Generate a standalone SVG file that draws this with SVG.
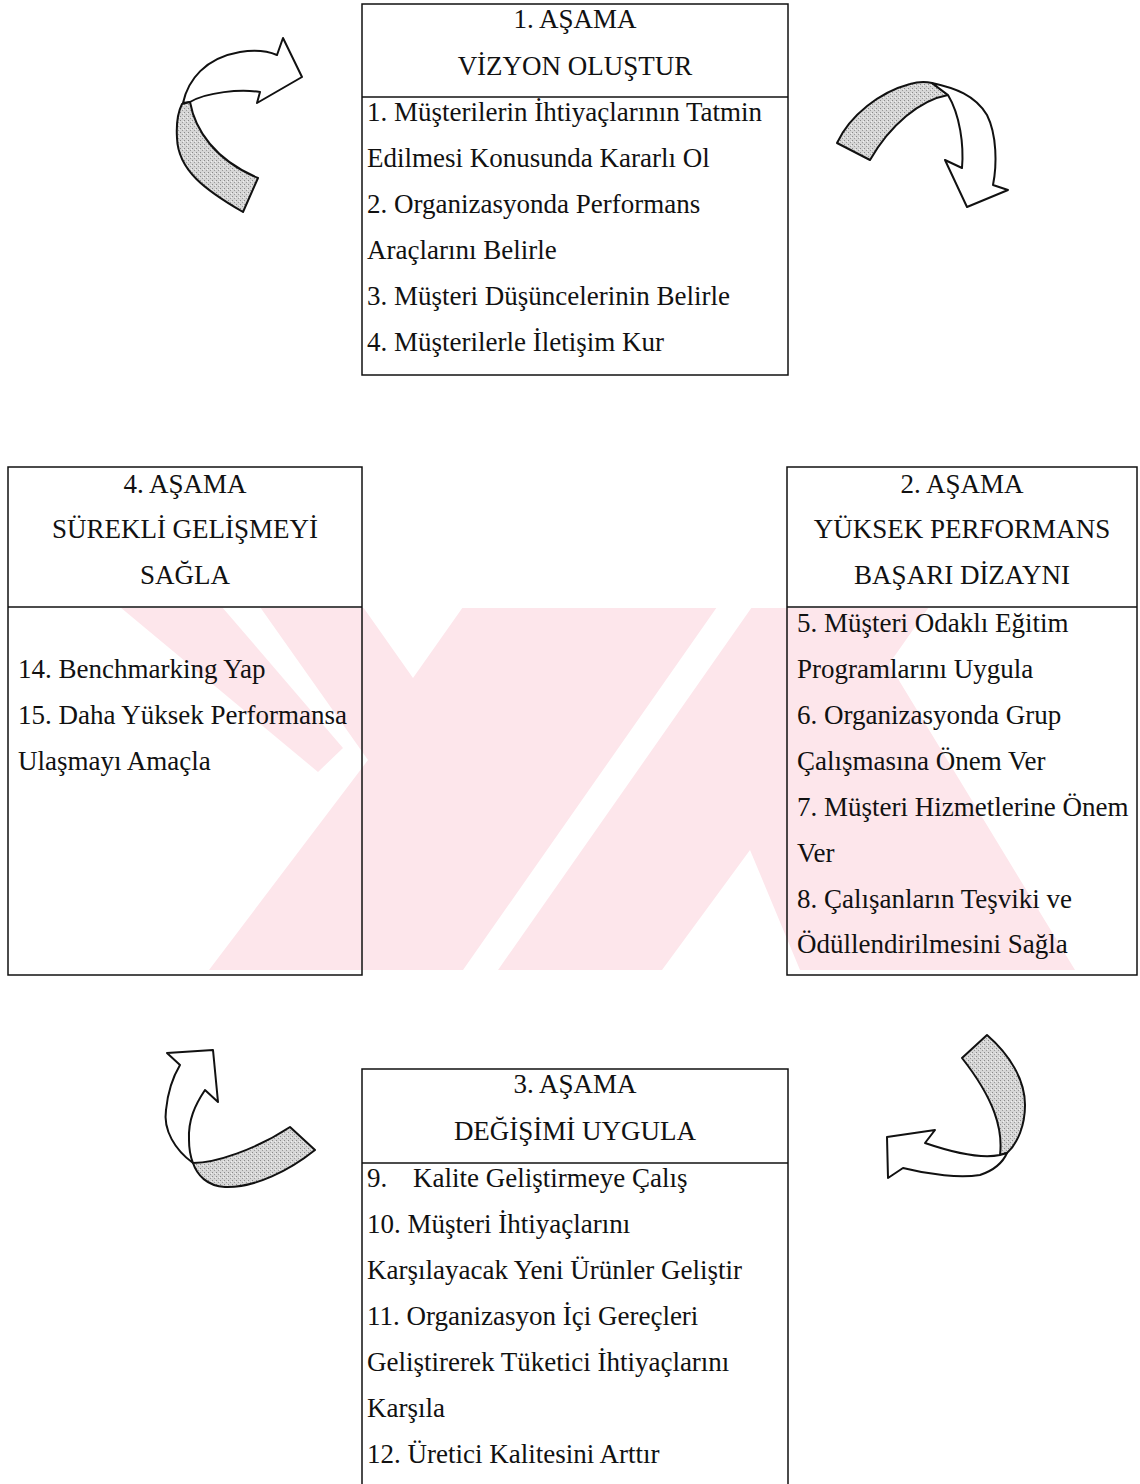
<svg xmlns="http://www.w3.org/2000/svg" width="1140" height="1484" viewBox="0 0 1140 1484">
<style>
.box{fill:none;stroke:#111;stroke-width:1.5}
.ln{stroke:#111;stroke-width:1.5}
text{font-family:"Liberation Serif","Times New Roman",serif;font-size:27px;fill:#111}
.h{text-anchor:middle}
.wm{fill:#fde6eb;stroke:none}
.aw{fill:#fff;stroke:#111;stroke-width:2;stroke-linejoin:round}
.as{fill:url(#stip);stroke:#111;stroke-width:2;stroke-linejoin:round}
</style>
<defs>
<pattern id="stip" width="4" height="4" patternUnits="userSpaceOnUse">
<rect width="4" height="4" fill="#d6d6d6"/>
<rect x="0" y="0" width="1" height="1" fill="#8a8a8a"/>
<rect x="2" y="2" width="1" height="1" fill="#9a9a9a"/>
<rect x="3" y="1" width="1" height="1" fill="#f0f0f0"/>
</pattern>
<clipPath id="wmclip"><rect x="10" y="608" width="1120" height="362"/></clipPath>
</defs>
<rect width="1140" height="1484" fill="#fff"/>
<g id="watermark" clip-path="url(#wmclip)">
<polygon class="wm" points="120,607 222,607 343,748 318,772"/>
<polygon class="wm" points="260,607 363,607 413,678 463,607 717,607 463,970 209,970 368,760"/>
<polygon class="wm" points="752,607 929,607 889,664 1075,970 800,970 750,850 662,970 498,970"/>
</g>
<g id="connectors">
<g id="arrow-tl">
<path class="aw" d="M183,103 C188,80 205,58 240,52 C258,49 270,52 277,55 L283,38 L302,77 L257,103 L260,92 C240,89 207,92 190,102 Z"/>
<path class="as" d="M182,104 L190,102 C195,130 215,160 258,178 L243,212 C205,190 178,170 177,138 C176,122 178,112 182,104 Z"/>
</g>
<g id="arrow-tr">
<path class="as" d="M837,143 C850,115 880,92 910,84 C920,81 928,82 932,83 L948,95 C920,100 890,125 870,160 Z"/>
<path class="aw" d="M932,83 C955,88 975,95 987,115 C997,135 997,165 993,185 L1008,190 L967,207 L945,160 L962,168 C964,145 960,115 948,95 Z"/>
</g>
<g id="arrow-br">
<path class="as" d="M962,1058 L987,1035 C1010,1055 1025,1080 1025,1105 C1025,1125 1018,1143 1007,1153 L1000,1155 C1003,1130 995,1100 962,1058 Z"/>
<path class="aw" d="M1000,1155 C985,1158 960,1155 925,1143 L935,1130 L887,1137 L888,1178 L903,1168 C930,1175 960,1178 980,1175 C995,1170 1003,1162 1007,1153 Z"/>
</g>
<g id="arrow-bl">
<path class="aw" d="M193,1163 C175,1150 163,1130 166,1110 C168,1090 174,1075 180,1065 L167,1053 L213,1050 L218,1102 L205,1090 C195,1105 188,1120 189,1140 C189,1150 191,1158 193,1163 Z"/>
<path class="as" d="M193,1163 C215,1163 255,1150 290,1127 L315,1150 C290,1170 255,1188 225,1187 C207,1186 197,1175 193,1163 Z"/>
</g>
</g>
<g id="stage1">
<rect class="box" x="362" y="4" width="426" height="371"/>
<line class="ln" x1="362" y1="97" x2="788" y2="97"/>
<text class="h" x="575" y="28">1. AŞAMA</text>
<text class="h" x="575" y="75">VİZYON OLUŞTUR</text>
<text x="367" y="121">1. Müşterilerin İhtiyaçlarının Tatmin</text>
<text x="367" y="167">Edilmesi Konusunda Kararlı Ol</text>
<text x="367" y="213">2. Organizasyonda Performans</text>
<text x="367" y="259">Araçlarını Belirle</text>
<text x="367" y="305">3. Müşteri Düşüncelerinin Belirle</text>
<text x="367" y="351">4. Müşterilerle İletişim Kur</text>
</g>
<g id="stage4">
<rect class="box" x="8" y="467" width="354" height="508"/>
<line class="ln" x1="8" y1="607" x2="362" y2="607"/>
<text class="h" x="185" y="493">4. AŞAMA</text>
<text class="h" x="185" y="538">SÜREKLİ GELİŞMEYİ</text>
<text class="h" x="185" y="584">SAĞLA</text>
<text x="18" y="678">14. Benchmarking Yap</text>
<text x="18" y="724">15. Daha Yüksek Performansa</text>
<text x="18" y="770">Ulaşmayı Amaçla</text>
</g>
<g id="stage2">
<rect class="box" x="787" y="467" width="350" height="508"/>
<line class="ln" x1="787" y1="607" x2="1137" y2="607"/>
<text class="h" x="962" y="493">2. AŞAMA</text>
<text class="h" x="962" y="538">YÜKSEK PERFORMANS</text>
<text class="h" x="962" y="584">BAŞARI DİZAYNI</text>
<text x="797" y="632">5. Müşteri Odaklı Eğitim</text>
<text x="797" y="678">Programlarını Uygula</text>
<text x="797" y="724">6. Organizasyonda Grup</text>
<text x="797" y="770">Çalışmasına Önem Ver</text>
<text x="797" y="816">7. Müşteri Hizmetlerine Önem</text>
<text x="797" y="862">Ver</text>
<text x="797" y="908">8. Çalışanların Teşviki ve</text>
<text x="797" y="953">Ödüllendirilmesini Sağla</text>
</g>
<g id="stage3">
<path class="box" d="M362,1484 L362,1069 L788,1069 L788,1484"/>
<line class="ln" x1="362" y1="1163" x2="788" y2="1163"/>
<text class="h" x="575" y="1093">3. AŞAMA</text>
<text class="h" x="575" y="1140">DEĞİŞİMİ UYGULA</text>
<text x="367" y="1187">9.</text>
<text x="413" y="1187">Kalite Geliştirmeye Çalış</text>
<text x="367" y="1233">10. Müşteri İhtiyaçlarını</text>
<text x="367" y="1279">Karşılayacak Yeni Ürünler Geliştir</text>
<text x="367" y="1325">11. Organizasyon İçi Gereçleri</text>
<text x="367" y="1371">Geliştirerek Tüketici İhtiyaçlarını</text>
<text x="367" y="1417">Karşıla</text>
<text x="367" y="1463">12. Üretici Kalitesini Arttır</text>
</g>
</svg>
